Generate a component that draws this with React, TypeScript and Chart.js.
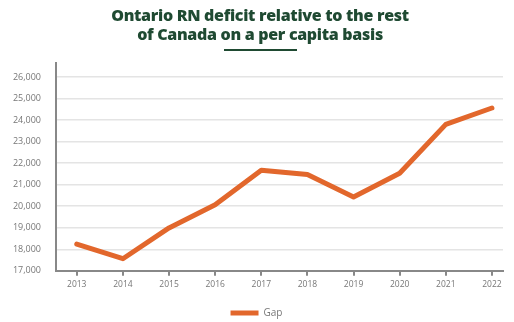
import React, { useEffect, useRef } from "react";
import { Chart, registerables } from "chart.js";

Chart.register(...registerables);

const years = [2013, 2014, 2015, 2016, 2017, 2018, 2019, 2020, 2021, 2022];
const gapValues = [18240, 17560, 18990, 20070, 21670, 21470, 20430, 21530, 23800, 24560];
const yTicks = [17000, 18000, 19000, 20000, 21000, 22000, 23000, 24000, 25000, 26000];
const seriesLabel = "Gap";
const titleLines = ["Ontario RN deficit relative to the rest", "of Canada on a per capita basis"];

const ORANGE = "#e2672c";
const GREEN = "#1f4a32";

export default function App() {
  const ref = useRef<HTMLCanvasElement | null>(null);
  useEffect(() => {
    if (!ref.current) return;
    const chart = new Chart(ref.current, {
      type: "line",
      data: {
        datasets: [
          {
            label: seriesLabel,
            data: years.map((y, i) => ({ x: y, y: gapValues[i] })),
            borderColor: ORANGE,
            backgroundColor: ORANGE,
            borderWidth: 5,
            pointRadius: 0,
            tension: 0,
            borderCapStyle: "round",
            borderJoinStyle: "round",
          },
        ],
      },
      options: {
        animation: false,
        responsive: false,
        layout: { padding: { top: 63, left: 10, right: 11, bottom: -6 } },
        plugins: {
          legend: {
            position: "bottom",
            labels: {
              usePointStyle: true,
              pointStyle: "line",
              pointStyleWidth: 28,
              boxHeight: 6,
              color: "#777",
              font: { family: "Open Sans", size: 10 },
              padding: 14,
            },
          },
          tooltip: { enabled: false },
        },
        scales: {
          x: {
            type: "linear",
            min: 2012.55,
            max: 2022.24,
            afterBuildTicks: (scale: any) => {
              scale.ticks = years.map((v) => ({ value: v }));
            },
            ticks: {
              color: "#777",
              font: { family: "Open Sans", size: 8.5 },
              padding: 4,
              callback: (v: any) => String(v),
            },
            grid: { drawOnChartArea: false, drawTicks: true, tickLength: 5, color: "#888", lineWidth: 2 },
            border: { display: true, color: "#888", width: 2 },
          },
          y: {
            min: 17000,
            max: 26650,
            afterBuildTicks: (scale: any) => {
              scale.ticks = yTicks.map((v) => ({ value: v }));
            },
            afterFit: (scale: any) => {
              scale.width = 46;
            },
            ticks: {
              color: "#777",
              font: { family: "Open Sans", size: 9 },
              padding: 15,
              callback: (v: any) => Number(v).toLocaleString("en-US"),
            },
            grid: { drawTicks: false, color: "#e4e4e4", lineWidth: 1.5 },
            border: { display: true, color: "#888", width: 2 },
          },
        },
      },
    });
    return () => chart.destroy();
  }, []);
  return (
    <div style={{ position: "fixed", left: 0, top: 0, width: 514, height: 322, background: "#fff" }}>
      <canvas ref={ref} width={514} height={322} style={{ position: "absolute", left: 0, top: 0 }} />
      <div
        style={{
          position: "absolute",
          left: 0,
          top: 6,
          width: 520,
          textAlign: "center",
          fontFamily: "'Open Sans', sans-serif",
          fontWeight: 800,
          fontSize: 16,
          lineHeight: "19px",
          letterSpacing: "-0.3px",
          color: GREEN,
        }}
      >
        {titleLines.map((t, i) => (
          <div key={i}>{t}</div>
        ))}
      </div>
      <div style={{ position: "absolute", left: 224, top: 49, width: 73, height: 2, background: GREEN }} />
    </div>
  );
}
